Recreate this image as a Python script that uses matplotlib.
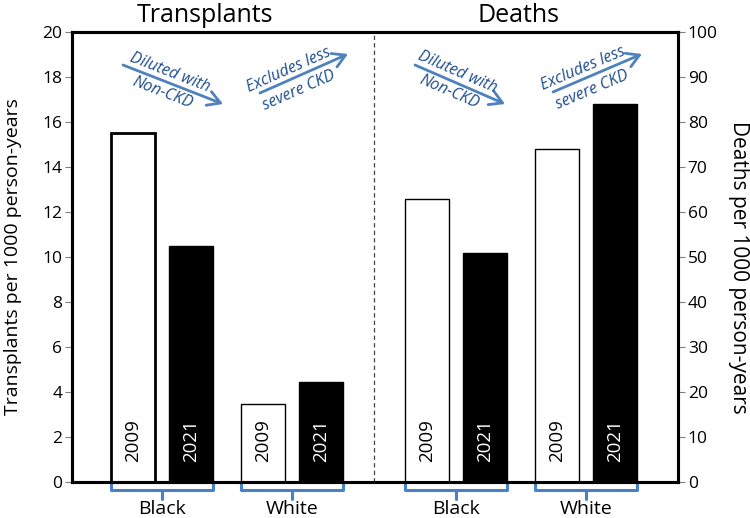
import matplotlib
matplotlib.use('Agg')
import matplotlib.pyplot as plt
from matplotlib.transforms import blended_transform_factory
import numpy as np

plt.rcParams['font.family'] = ['Open Sans', 'DejaVu Sans']

# ---- data ----
races = ['Black', 'White']
years = ['2009', '2021']
transplants_black = [15.5, 10.5]
transplants_white = [3.45, 4.45]
deaths_black = [63, 51]
deaths_white = [74, 84]
panel_titles = ['Transplants', 'Deaths']
left_ticks = list(range(0, 21, 2))
right_ticks = list(range(0, 101, 10))
left_ylabel = 'Transplants per 1000 person-years'
right_ylabel = 'Deaths per 1000 person-years'
note_diluted = ['Diluted with', 'Non-CKD']
note_excludes = ['Excludes less', 'severe CKD']

# ---- layout ----
W, H = 750, 518
L, R, T, B = 72, 678, 32, 482
fig = plt.figure(figsize=(W / 100, H / 100), dpi=100)
ax = fig.add_axes([L / W, 1 - B / H, (R - L) / W, (B - T) / H])
ax2 = ax.twinx()

px_per_unit = 44.0
xmax = (R - L) / px_per_unit
bar_w = 1.0
first_center = 2.05
race_step = 2.96
panel_step = 6.68
half_gap = 0.66


def centers(panel, race):
    gc = first_center + race * race_step + panel * panel_step
    return [gc - half_gap, gc + half_gap]


panels = [(ax, [transplants_black, transplants_white]),
          (ax2, [deaths_black, deaths_white])]

for p, (axis, vals) in enumerate(panels):
    for r in range(len(races)):
        xs = centers(p, r)
        for yi in range(len(years)):
            fc = 'white' if yi == 0 else 'black'
            lw = 2.0 if (p == 0 and r == 0 and yi == 0) else 1.0
            axis.bar(xs[yi], vals[r][yi], width=bar_w, color=fc,
                     edgecolor='black', linewidth=lw, zorder=2)
            axis.annotate(years[yi], (xs[yi], 0), xytext=(0, 29.5),
                          textcoords='offset points', rotation=90,
                          ha='center', va='center', fontsize=13.5,
                          color='black' if yi == 0 else 'white', zorder=3)

divider_x = (2 * first_center + race_step + panel_step) / 2
ax.axvline(divider_x, color='#444444', lw=0.9, ls=(0, (3.5, 2.5)), zorder=1)

ax.set_xlim(0, xmax)
ax.set_ylim(0, 20)
ax2.set_ylim(0, 100)
ax.set_xticks([])
ax.set_yticks(left_ticks)
ax2.set_yticks(right_ticks)
for a in (ax, ax2):
    a.tick_params(axis='y', length=5, width=0.8, color='#808080',
                  labelsize=12.5, pad=2)
    for s in a.spines.values():
        s.set_linewidth(2.2)
        s.set_color('black')

ax.set_ylabel(left_ylabel, fontsize=14)
ax.yaxis.set_label_coords(-0.083, 0.5)
ax2.set_ylabel(right_ylabel, fontsize=15, rotation=270, va='bottom')
ax2.yaxis.set_label_coords(1.0825, 0.478)

# titles
fig.text(205 / W, 1 - 15 / H, panel_titles[0], ha='center', va='center', fontsize=18)
fig.text(519 / W, 1 - 15 / H, panel_titles[1], ha='center', va='center', fontsize=18)

# brackets under groups
blue = '#4A80C8'
trans = blended_transform_factory(ax.transData, ax.transAxes)


def yfrac(py):
    return (B - py) / (B - T)


for p in range(2):
    for r in range(len(races)):
        xs = centers(p, r)
        x0, x1 = xs[0] - bar_w / 2, xs[1] + bar_w / 2
        xm = (x0 + x1) / 2
        ax.plot([x0, x0, x1, x1], [yfrac(483), yfrac(490), yfrac(490), yfrac(483)],
                transform=trans, color=blue, lw=2.2, clip_on=False,
                solid_joinstyle='round', solid_capstyle='round')
        ax.plot([xm, xm], [yfrac(490), yfrac(499)], transform=trans,
                color=blue, lw=2.2, clip_on=False, solid_capstyle='round')
        ax.text(xm, yfrac(509), races[r], transform=trans, ha='center',
                va='center', fontsize=14)

# arrows with notes (pixel layout): upper line above arrow, lower line below
arrow_color = '#4F81BD'
text_color = '#1F4E8F'
arrows = [((123, 65), (223, 104), note_diluted, (12.5, -9.5), -7),
          ((260, 93), (348, 54), note_excludes, (11.5, -11.5), -12),
          ((415, 65), (505, 104), note_diluted, (12.5, -9.5), -7),
          ((553, 92), (642, 54), note_excludes, (11.5, -11.5), -12)]
for (sx, sy), (ex, ey), lines, n_offs, a_off in arrows:
    ax.annotate('', xy=(ex / W, 1 - ey / H), xytext=(sx / W, 1 - sy / H),
                xycoords='figure fraction', textcoords='figure fraction',
                arrowprops=dict(arrowstyle='->,head_length=0.6,head_width=0.35',
                                color=arrow_color, lw=2.0, mutation_scale=15,
                                shrinkA=0, shrinkB=0))
    dx, dy = ex - sx, ey - sy
    ln = np.hypot(dx, dy)
    ux, uy = dx / ln, dy / ln
    nx, ny = uy, -ux
    if ny > 0:
        nx, ny = -nx, -ny
    mx, my = (sx + ex) / 2, (sy + ey) / 2
    ang = np.degrees(np.arctan2(-dy, dx))
    for txt, n_off in zip(lines, n_offs):
        cx = mx + nx * n_off + ux * a_off
        cy = my + ny * n_off + uy * a_off
        fig.text(cx / W, 1 - cy / H, txt, rotation=ang, rotation_mode='anchor',
                 ha='center', va='center_baseline', fontsize=11.5, style='italic',
                 color=text_color)

fig.savefig('out.png', dpi=100)
